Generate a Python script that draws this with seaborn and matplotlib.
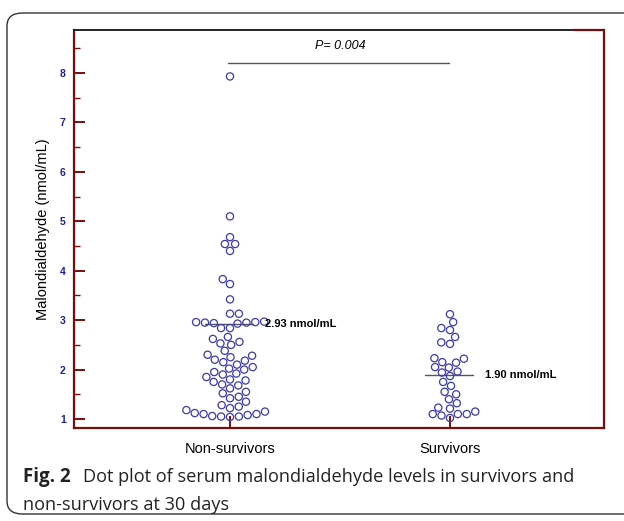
import matplotlib
matplotlib.use("Agg")
import matplotlib.pyplot as plt
from matplotlib.patches import FancyBboxPatch
import seaborn as sns
import pandas as pd

groups = ["Non-survivors", "Survivors"]
non_survivors = [7.93, 5.10, 4.68, 4.54, 4.54, 4.40, 3.83, 3.73, 3.42, 3.13, 3.13,
                 2.97, 2.96, 2.96, 2.95, 2.95, 2.94, 2.93, 2.84, 2.84, 2.66, 2.62,
                 2.56, 2.53, 2.50, 2.38, 2.30, 2.28, 2.25, 2.20, 2.18, 2.15, 2.10,
                 2.05, 2.02, 2.00, 1.95, 1.92, 1.90, 1.85, 1.80, 1.78, 1.75, 1.70,
                 1.68, 1.62, 1.55, 1.52, 1.45, 1.42, 1.35, 1.28, 1.25, 1.22, 1.18,
                 1.15, 1.12, 1.10, 1.10, 1.08, 1.06, 1.05, 1.05, 1.04]
survivors = [3.12, 2.96, 2.84, 2.80, 2.66, 2.55, 2.52, 2.23, 2.22, 2.15, 2.14,
             2.05, 2.04, 1.96, 1.94, 1.87, 1.75, 1.67, 1.55, 1.50, 1.40, 1.32,
             1.23, 1.21, 1.15, 1.10, 1.10, 1.10, 1.07, 1.02]
group_means = [2.93, 1.90]
mean_labels = ["2.93 nmol/mL", "1.90 nmol/mL"]
p_text = "P= 0.004"
p_level = 8.20
y_ticks = [1, 2, 3, 4, 5, 6, 7, 8]

df = pd.DataFrame({
    "group": [groups[0]] * len(non_survivors) + [groups[1]] * len(survivors),
    "value": non_survivors + survivors,
})

sns.set_style("white")
plt.rcParams["font.family"] = ["Liberation Sans", "DejaVu Sans"]

W, H = 624, 521
fig = plt.figure(figsize=(W / 100, H / 100), dpi=100)
ax = fig.add_axes([74 / W, 1 - 428 / H, 530 / W, 398 / H])

red = "#7a0c0c"
blue = "#1f1f99"
dot = "#3b3bab"

ax.set_xlim(-0.709, 1.70)
ax.set_ylim(0.818, 8.87)

sns.swarmplot(data=df, x="group", y="value", order=groups, ax=ax,
              size=5.2, facecolors="none", edgecolor=dot, linewidth=0.9,
              color=dot)
ax.set_xlim(-0.709, 1.70)
ax.set_ylim(0.818, 8.87)

# mean lines and labels
for i, (m, lab) in enumerate(zip(group_means, mean_labels)):
    ax.plot([i - 0.115, i + 0.105], [m, m], color="#555555", lw=1.0, zorder=1)
    ax.text(i + 0.16, m, lab, fontsize=8, fontweight="bold", va="center",
            ha="left", color="black")

# P value bracket
ax.plot([-0.01, 0.995], [p_level, p_level], color="#555555", lw=1.0)
ax.text(0.5, p_level + 0.23, p_text, fontsize=9, fontstyle="italic",
        ha="center", va="bottom", color="black")

for s in ["left", "bottom", "right"]:
    ax.spines[s].set_color(red)
    ax.spines[s].set_linewidth(1.6)
ax.spines["top"].set_color("#222222")
ax.spines["top"].set_linewidth(1.4)
ax.plot([0.943, 1.0], [1.0, 1.0], transform=ax.transAxes, color=red, lw=1.6,
        clip_on=False, zorder=5)

ax.set_yticks(y_ticks)
ax.set_yticks([v + 0.5 for v in y_ticks[:-1]] + [8.5], minor=True)
ax.tick_params(axis="y", which="major", direction="in", length=8, width=1.4,
               color=red, labelcolor=blue, labelsize=7.5, pad=6, left=True)
ax.tick_params(axis="y", which="minor", direction="in", length=4, width=1.0,
               color=red, left=True)
for t in ax.get_yticklabels():
    t.set_fontweight("bold")
ax.tick_params(axis="x", which="major", direction="in", length=9, width=1.4,
               color=red, labelcolor="black", labelsize=10.5, pad=10, bottom=True)
ax.set_xlabel("")
ax.set_ylabel("Malondialdehyde (nmol/mL)", fontsize=10.5, color="black",
              labelpad=7)

# rounded frame around figure
box = FancyBboxPatch((7 / W, 7 / H), (W + 30) / W, (H - 20) / H,
                     boxstyle="round,pad=0,rounding_size=0.025",
                     transform=fig.transFigure, fill=False, edgecolor="#333333",
                     lw=1.0, clip_on=False)
fig.patches.append(box)

cap_font = ["Open Sans", "DejaVu Sans"]
cap_size = 13.1
fig.text(23 / W, 1 - 482 / H, "Fig. 2", fontsize=13.5, fontweight="bold",
         family=cap_font, va="baseline", ha="left", color="#222222")
fig.text(83 / W, 1 - 482 / H, "Dot plot of serum malondialdehyde levels in survivors and",
         fontsize=cap_size, family=cap_font, va="baseline", ha="left", color="#222222")
fig.text(23 / W, 1 - 510 / H, "non-survivors at 30 days", fontsize=cap_size,
         family=cap_font, va="baseline", ha="left", color="#222222")

fig.savefig("out.png", dpi=100)
